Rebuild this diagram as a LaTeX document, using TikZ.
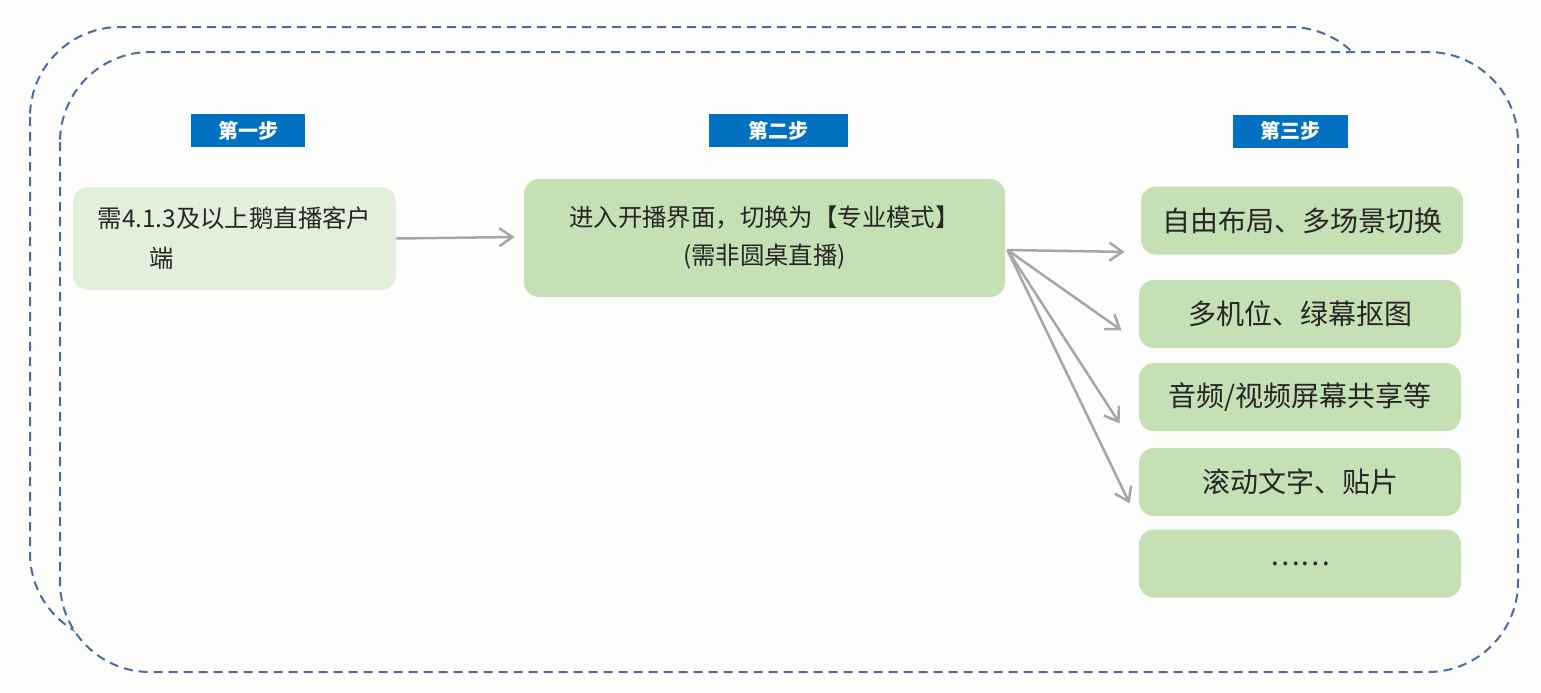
\documentclass[tikz,border=0pt]{standalone}
\usepackage{fontspec}
\setmainfont{Noto Sans CJK SC}
\usetikzlibrary{arrows.meta,calc}
\definecolor{pagebg}{RGB}{253,253,251}
\definecolor{framebl}{RGB}{74,106,165}
\definecolor{tagblue}{RGB}{0,112,192}
\definecolor{palegreen}{RGB}{226,239,218}
\definecolor{midgreen}{RGB}{197,224,180}
\definecolor{linkgray}{RGB}{166,166,166}
\definecolor{txtgray}{RGB}{38,38,38}
\tikzset{
  frame/.style={draw=framebl, line width=1pt, dash pattern=on 4.5pt off 3pt, rounded corners=45pt},
  steptag/.style={fill=tagblue, text=white, font=\fontsize{10}{12}\selectfont\bfseries, minimum height=16.5pt, inner sep=0pt},
  greenbox/.style={fill=midgreen, text=txtgray, rounded corners=7.5pt, inner sep=0pt},
  featbox/.style={greenbox, minimum width=161pt, minimum height=34pt, font=\fontsize{14}{16}\selectfont},
  link/.style={draw=linkgray, line width=1.25pt, -{Straight Barb[length=6.5pt,width=9pt]}}
}

\begin{document}
\begin{tikzpicture}[x=0.5pt,y=0.5pt,yscale=-1,xscale=1]
\useasboundingbox [fill=pagebg] (0,0) rectangle (1541,692);

%Dashed frames (back one first, front one covers it)
\draw [frame] (30,27) rectangle (1380,643);
\draw [frame, fill=pagebg] (60,52) rectangle (1518,672);

% Step tags
\node [steptag, minimum width=57pt] (tag1) at (248,130.5) {第一步};
\node [steptag, minimum width=69.5pt] (tag2) at (778.5,130.5) {第二步};
\node [steptag, minimum width=57.5pt] (tag3) at (1290.5,131) {第三步};

% Step one
\node [greenbox, fill=palegreen, minimum width=161.5pt, minimum height=51.5pt, align=left, font=\fontsize{12.2}{20}\selectfont] (s1) at (234.5,238.5) {需4.1.3及以上鹅直播客户\\\hspace*{26pt}端};
% Step two
\node [greenbox, minimum width=240.5pt, minimum height=59pt, align=center, font=\fontsize{12.2}{19}\selectfont] (s2) at (764.5,238) {进入开播界面，切换为【专业模式】\\(需非圆桌直播)};
% Step three
\node [featbox] (r1) at (1302,220.5) {自由布局、多场景切换};
\node [featbox] (r2) at (1300,314) {多机位、绿幕抠图};
\node [featbox] (r3) at (1300,397) {音频/视频屏幕共享等};
\node [featbox] (r4) at (1300,482) {滚动文字、贴片};
\node [featbox] (r5) at (1300,563.5) {……};

%Arrows
\coordinate (fan) at ($(s2.east)+(2,12)$);
\draw [link] (s1.east) -- ($(s2.west)+(-9,-1)$);
\draw [link] (fan) -- ($(r1.south west)+(-16,-3)$);
\draw [link] (fan) -- ($(r2.south west)+(-17,-18)$);
\draw [link] (fan) -- ($(r3.south west)+(-19,-8)$);
\draw [link] (fan) -- ($(r4.south west)+(-9,-13)$);

\end{tikzpicture}
\end{document}
